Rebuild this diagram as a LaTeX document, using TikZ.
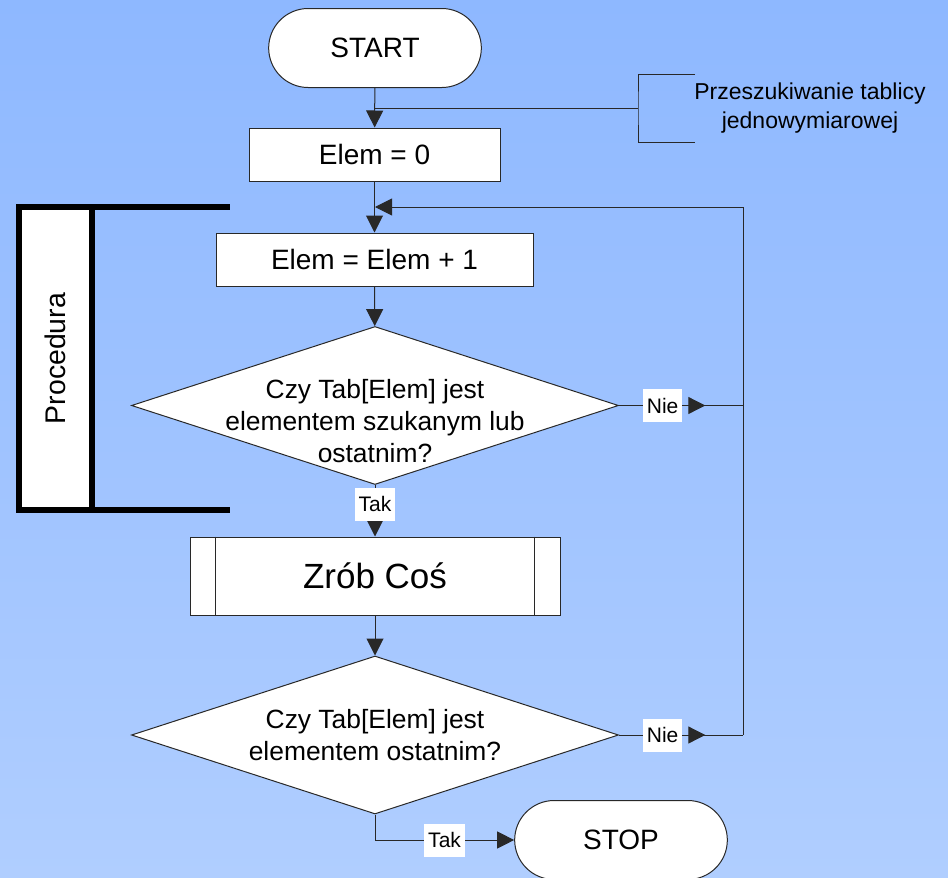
\documentclass[tikz,border=0pt]{standalone}
\usepackage{fontspec}
\setmainfont{Liberation Sans}
\usetikzlibrary{shapes.geometric,shapes.misc,arrows.meta,decorations.markings}
\definecolor{bgtop}{RGB}{142,184,255}
\definecolor{bgbot}{RGB}{176,206,255}
\definecolor{ink}{RGB}{40,40,40}
\tikzset{
    line/.style={draw=ink, line width=0.5pt},
    flow/.style={line, -{Triangle[length=8.5pt,width=8.5pt]}},
    midarrow/.style={postaction={decorate,
        decoration={markings, mark=at position #1 with
        {\arrow{Triangle[length=8.5pt,width=8.5pt]}}}}},
    box/.style={line, fill=white, minimum height=26.5pt,
        font=\fontsize{14}{16}\selectfont},
    term/.style={rounded rectangle, line, fill=white,
        minimum width=113pt, minimum height=39.5pt,
        font=\fontsize{14}{16}\selectfont},
    dec/.style={diamond, line, fill=white, inner sep=0pt,
        minimum width=243.5pt, minimum height=79pt},
    qtext/.style={align=center, font=\fontsize{13.2}{16}\selectfont},
    lbl/.style={fill=white, inner xsep=2pt, inner ysep=0pt,
        minimum height=16.5pt, font=\fontsize{10.5}{12}\selectfont}
}
\begin{document}
\begin{tikzpicture}[x=0.5pt, y=-0.5pt]
\useasboundingbox (0,0) rectangle (948,878);
\shade[top color=bgtop, bottom color=bgbot] (0,0) rectangle (948,878);
\node[draw, line width=3pt, fill=white, inner sep=0pt, outer sep=0pt,
    minimum width=36.5pt, minimum height=151.5pt] (procbar) at (55.5,358.5) {};
\node[rotate=90, font=\fontsize{14.2}{16}\selectfont] (proctxt) at (procbar) {Procedura};
\draw[line width=3pt] (procbar.north east) -- ++(138,0)
    (procbar.south east) -- ++(138,0);
\node[term] (start) at (375,48) {START};
\node[box, minimum width=125.5pt] (init) at (374.5,154.5) {Elem = 0};
\node[box, minimum width=158.5pt] (inc) at (374.5,259.5) {Elem = Elem + 1};
\node[dec, label={[qtext,yshift=-8pt]center:{Czy Tab[Elem] jest\\elementem szukanym lub\\ostatnim?}}]
    (dec1) at (375,405.5) {};
\node[box, minimum width=185pt, minimum height=39pt,
    font=\fontsize{17.5}{20}\selectfont] (task) at (375,576) {Zrób Coś};
\draw[line] ([xshift=13pt]task.north west) -- ([xshift=13pt]task.south west)
    ([xshift=-13pt]task.north east) -- ([xshift=-13pt]task.south east);
\node[dec, label={[qtext]center:{Czy Tab[Elem] jest\\elementem ostatnim?}}]
    (dec2) at (375,735) {};
\node[term] (stop) at (621,840) {STOP};
\node[align=center, font=\fontsize{11.5}{14.5}\selectfont] (note) at (810,108)
    {Przeszukiwanie tablicy\\jednowymiarowej};
\coordinate (tap) at (375,108);
\coordinate (brk) at (638,108);
\coordinate (join) at (375,207);
\coordinate (ret1) at (743,405.5);
\coordinate (ret2) at (743,735);
\draw[flow] (start) -- (init);
\draw[line] (tap) -- (brk);
\draw[line] (695,74) -| (brk) |- (695,142);
\draw[flow] (init) -- (inc);
\draw[flow] (inc) -- (dec1);
\draw[flow] (dec1) -- node[lbl, pos=0.37] (tak1) {Tak} (task);
\draw[flow] (task) -- (dec2);
\draw[flow] (dec2) |- node[lbl, pos=0.75] (tak2) {Tak} (stop);
\draw[line, midarrow=0.696] (dec1.east) -- node[lbl, pos=0.352] (nie1) {Nie} (ret1);
\draw[line, midarrow=0.696] (dec2.east) -- node[lbl, pos=0.352] (nie2) {Nie} (ret2);
\draw[flow] (ret2) |- (join);
\end{tikzpicture}
\end{document}
